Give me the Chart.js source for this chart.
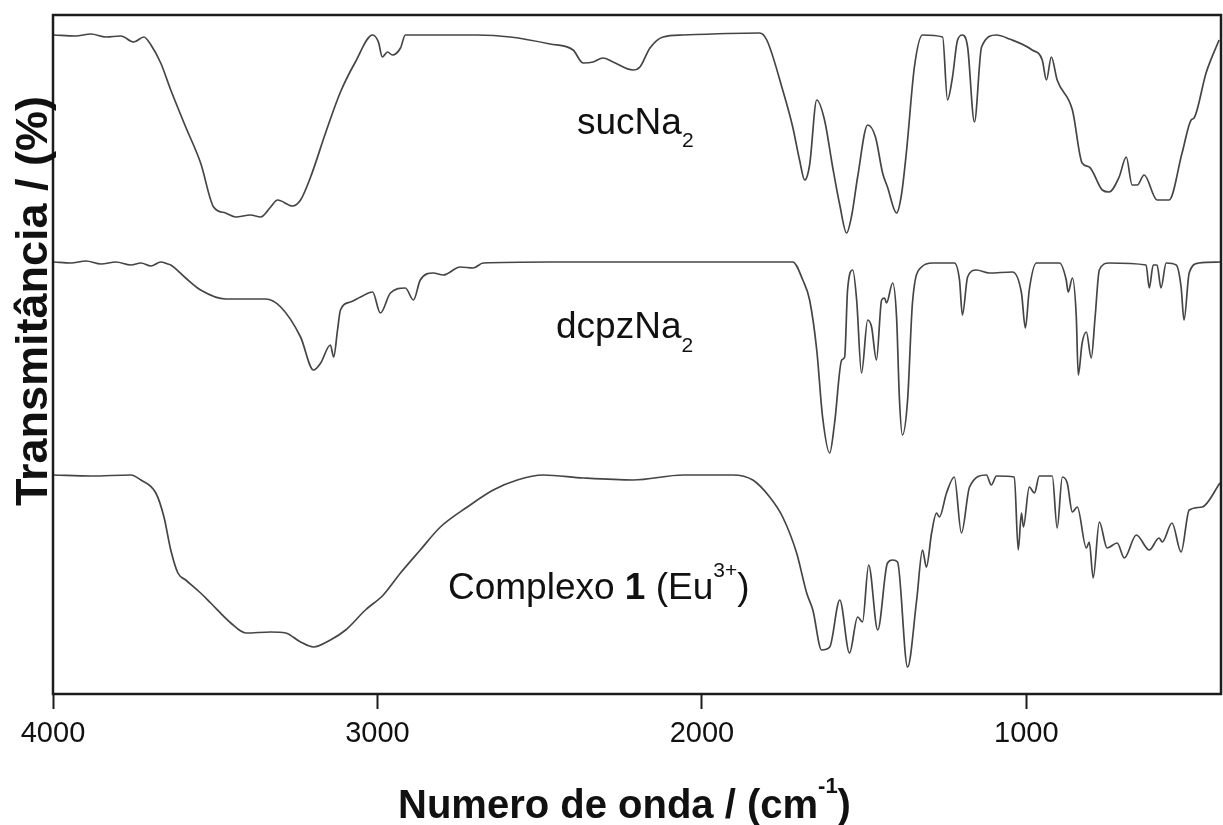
<!DOCTYPE html>
<html>
<head>
<meta charset="utf-8">
<script src="https://cdn.jsdelivr.net/npm/chart.js@4/dist/chart.umd.min.js"></script>
<style>
    html, body { margin: 0; padding: 0; background: #ffffff; }
    canvas { display: block; }
</style>
</head>
<body>
<canvas id="ir-chart" width="1223" height="825"></canvas>
<script>
var tickValues = [4000, 3000, 2000, 1000];

var sucWavenumber = [3997, 3931, 3883, 3837, 3791, 3751, 3720, 3698, 3668, 3637, 3591, 3545, 3505, 3468, 3437, 3391,
    3360, 3329, 3308, 3262, 3237, 3206, 3160, 3114, 3068, 3015, 2997, 2985, 2969, 2954, 2929, 2914, 2692, 2591, 2468,
    2397, 2366, 2335, 2305, 2274, 2212, 2191, 2160, 2120, 2058, 1822, 1800, 1751, 1720, 1699, 1683, 1668, 1646, 1622,
    1597, 1575, 1554, 1538, 1520, 1489, 1465, 1443, 1428, 1400, 1385, 1369, 1345, 1320, 1258, 1243, 1228, 1212, 1197,
    1181, 1160, 1138, 1092, 1052, 982, 951, 938, 923, 905, 858, 828, 806, 766, 745, 714, 692, 674, 658, 637, 597, 560,
    520, 492, 483, 446, 406];
var sucTransmittance = [65.8, 65.7, 65.9, 65.6, 65.7, 65.1, 65.6, 64.8, 63.0, 60.3, 56.6, 53.0, 48.6, 48.0, 47.6, 47.8,
    47.6, 48.6, 49.3, 48.7, 49.3, 51.6, 56.0, 60.1, 63.1, 65.8, 65.1, 63.6, 64.1, 63.8, 64.5, 65.8, 65.8, 65.6, 64.9,
    64.3, 63.0, 63.1, 63.5, 63.1, 62.3, 62.6, 64.5, 65.6, 65.8, 66.0, 65.3, 60.3, 56.6, 53.3, 51.3, 52.8, 59.3, 57.3,
    52.6, 48.8, 46.0, 47.8, 51.6, 56.8, 55.6, 52.0, 50.6, 48.0, 49.8, 54.3, 62.6, 65.8, 65.6, 59.3, 61.5, 65.3, 65.8,
    64.6, 57.1, 64.6, 65.8, 65.4, 64.3, 63.3, 61.3, 63.6, 61.3, 58.3, 53.0, 52.6, 50.3, 50.1, 51.6, 53.6, 50.8, 50.8,
    51.8, 49.3, 49.3, 54.0, 57.3, 57.5, 62.0, 65.3];

var dcpzWavenumber = [3997, 3945, 3898, 3852, 3806, 3760, 3729, 3698, 3668, 3646, 3637, 3591, 3545, 3468, 3345, 3298,
    3237, 3197, 3175, 3145, 3135, 3123, 3114, 3083, 3052, 3015, 2991, 2960, 2914, 2889, 2868, 2828, 2797, 2745, 2705,
    2674, 2468, 2160, 1720, 1689, 1668, 1646, 1628, 1606, 1591, 1569, 1560, 1551, 1535, 1523, 1508, 1489, 1477, 1462,
    1446, 1437, 1431, 1412, 1400, 1391, 1382, 1366, 1351, 1323, 1289, 1222, 1206, 1197, 1181, 1154, 1114, 1043, 1015,
    1003, 991, 969, 898, 877, 871, 858, 846, 840, 828, 815, 800, 788, 775, 745, 631, 621, 609, 597, 585, 569, 538, 523,
    514, 498, 468, 403];
var dcpzTransmittance = [43.1, 43.0, 43.2, 42.9, 43.1, 42.8, 43.0, 42.7, 43.1, 42.9, 42.8, 41.5, 40.3, 39.4, 39.4, 38.6,
    35.6, 32.3, 33.0, 34.8, 33.6, 36.3, 38.3, 39.1, 39.6, 40.1, 38.0, 40.0, 40.5, 39.3, 41.3, 42.0, 41.8, 42.6, 42.5,
    43.0, 43.1, 43.1, 43.1, 41.3, 39.3, 34.3, 27.6, 24.0, 27.0, 33.3, 33.6, 40.3, 42.3, 39.3, 32.0, 37.3, 36.6, 33.3,
    39.3, 39.5, 39.0, 41.0, 37.6, 29.3, 25.8, 29.3, 39.0, 42.6, 43.0, 43.0, 41.3, 37.8, 41.6, 42.3, 42.0, 42.1, 40.0,
    36.5, 40.3, 43.0, 43.0, 41.3, 40.1, 41.5, 37.6, 31.8, 35.0, 36.1, 33.5, 37.6, 42.3, 43.0, 42.8, 40.5, 42.8, 42.8,
    40.5, 43.0, 42.8, 40.6, 37.3, 42.0, 43.0, 43.1];

var complexWavenumber = [3997, 3883, 3760, 3729, 3683, 3658, 3637, 3615, 3591, 3545, 3514, 3452, 3406, 3329, 3283, 3237,
    3197, 3145, 3098, 3037, 2982, 2929, 2868, 2806, 2723, 2643, 2569, 2489, 2366, 2212, 2058, 1905, 1843, 1791, 1751,
    1708, 1677, 1658, 1631, 1606, 1575, 1545, 1520, 1505, 1486, 1458, 1428, 1412, 1397, 1366, 1338, 1320, 1308, 1292,
    1277, 1268, 1246, 1222, 1200, 1175, 1123, 1108, 1092, 1037, 1025, 1015, 1009, 991, 975, 960, 920, 905, 889, 874,
    858, 843, 815, 806, 794, 775, 751, 720, 698, 661, 621, 591, 581, 551, 523, 498, 458, 403];
var complexTransmittance = [21.8, 21.7, 21.8, 21.3, 20.0, 17.6, 14.3, 12.0, 11.3, 10.0, 9.0, 7.0, 6.0, 6.1, 6.0, 5.1,
    4.6, 5.3, 6.3, 8.3, 9.8, 12.0, 14.3, 16.6, 18.6, 20.3, 21.3, 21.8, 21.5, 21.3, 21.8, 21.8, 21.3, 19.6, 17.6,
    14.0, 10.0, 8.3, 4.3, 4.6, 9.3, 4.0, 7.6, 7.1, 12.8, 6.3, 13.0, 13.3, 13.1, 2.6, 9.3, 14.3, 12.6, 16.0,
    18.0, 17.6, 20.0, 21.6, 16.0, 20.6, 21.8, 20.8, 21.7, 21.6, 14.3, 18.0, 16.6, 20.6, 20.0, 21.7, 21.7, 16.5, 21.6, 21.0,
    18.1, 18.6, 14.5, 15.1, 11.5, 17.1, 14.5, 15.0, 13.5, 15.8, 14.3, 15.5, 15.1, 17.0, 14.1, 18.3, 18.6, 21.0];

var FONT = "'Liberation Sans', Arial, sans-serif";
var INK = "#111111";
var LINE = "#454545";

function toPoints(xs, ys) {
    var pts = [];
    for (var i = 0; i < xs.length; i++) {
        pts.push({x: xs[i], y: ys[i]});
    }
    return pts;
}

function spectrum(label, xs, ys) {
    return {
        label: label,
        data: toPoints(xs, ys),
        borderColor: LINE,
        borderWidth: 1.7,
        pointRadius: 0,
        fill: false,
        cubicInterpolationMode: "monotone"
    };
}

// draws a run of text pieces, each with its own font and vertical shift
function drawRich(ctx, parts, x, y) {
    ctx.textBaseline = "alphabetic";
    ctx.textAlign = "left";
    for (var i = 0; i < parts.length; i++) {
        var p = parts[i];
        ctx.font = p.font;
        ctx.fillText(p.text, x, y + (p.dy || 0));
        x += ctx.measureText(p.text).width;
    }
}

var decorPlugin = {
    id: "decor",
    afterDraw: function (chart) {
        var ctx = chart.ctx;
        var a = chart.chartArea;
        ctx.save();
        ctx.strokeStyle = "#1c1c1c";
        ctx.lineWidth = 2.5;
        ctx.strokeRect(a.left, a.top, a.right - a.left, a.bottom - a.top);

        ctx.fillStyle = INK;
        var big = "37px " + FONT;
        var small = "21px " + FONT;
        drawRich(ctx, [{text: "sucNa", font: big}, {text: "2", font: small, dy: 13}], 577, 134);
        drawRich(ctx, [{text: "dcpzNa", font: big}, {text: "2", font: small, dy: 14}], 556, 338);
        drawRich(ctx, [
            {text: "Complexo ", font: big},
            {text: "1", font: "bold 37px " + FONT},
            {text: " (Eu", font: big},
            {text: "3+", font: small, dy: -22},
            {text: ")", font: big}
        ], 448, 599);

        drawRich(ctx, [
            {text: "Numero de onda / (cm", font: "bold 40px " + FONT},
            {text: "-1", font: "bold 22px " + FONT, dy: -25},
            {text: ")", font: "bold 40px " + FONT}
        ], 398, 818);

        ctx.translate(47, 301);
        ctx.rotate(-Math.PI / 2);
        ctx.font = "bold 45px " + FONT;
        ctx.textAlign = "center";
        ctx.textBaseline = "alphabetic";
        ctx.fillText("Transmitância / (%)", 0, 0);
        ctx.restore();
    }
};

var config = {
    type: "line",
    data: {
        datasets: [
            spectrum("sucNa2", sucWavenumber, sucTransmittance),
            spectrum("dcpzNa2", dcpzWavenumber, dcpzTransmittance),
            spectrum("Complexo 1 (Eu3+)", complexWavenumber, complexTransmittance)
        ]
    },
    options: {
        responsive: false,
        animation: false,
        devicePixelRatio: 1,
        layout: {padding: {left: 53, top: 15, right: 2, bottom: 0}},
        plugins: {legend: {display: false}, tooltip: {enabled: false}},
        scales: {
            x: {
                type: "linear",
                reverse: true,
                min: 400,
                max: 4000,
                afterBuildTicks: function (scale) {
                    scale.ticks = tickValues.map(function (v) { return {value: v}; });
                },
                afterFit: function (scale) {
                    scale.height = 131;
                },
                grid: {
                    drawOnChartArea: false,
                    drawTicks: true,
                    tickLength: 15,
                    tickWidth: 2,
                    tickColor: "#1c1c1c"
                },
                border: {display: false},
                ticks: {
                    font: {family: FONT, size: 29},
                    color: INK,
                    padding: 8,
                    maxRotation: 0,
                    autoSkip: false,
                    callback: function (value) {
                        return String(value);
                    }
                }
            },
            y: {
                type: "linear",
                min: -0.1,
                max: 67.8,
                grid: {display: false},
                border: {display: false},
                ticks: {display: false},
                afterFit: function (scale) {
                    scale.width = 0;
                }
            }
        }
    },
    plugins: [decorPlugin]
};

var irChart = new Chart(document.getElementById("ir-chart").getContext("2d"), config);
</script>
</body>
</html>
